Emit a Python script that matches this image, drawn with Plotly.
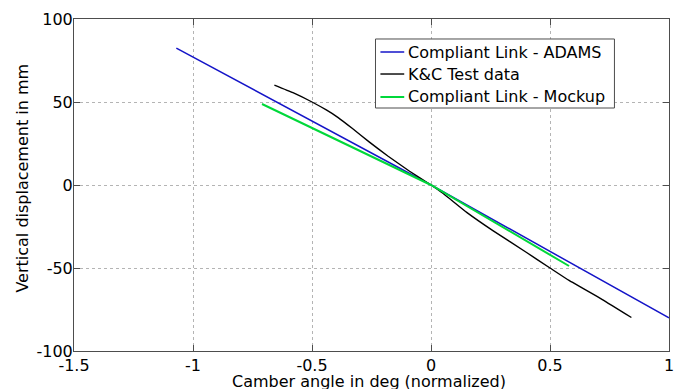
import plotly.graph_objects as go

# Compliant link model (ADAMS)
adams_x = [-1.07, 0.0, 1.0]
adams_y = [82.5, 0.0, -80.0]

# Kinematics & compliance rig measurement
kc_x = [-0.658, -0.58, -0.5, -0.44, -0.39, -0.33, -0.26, -0.18, -0.09, 0.0,
        0.05, 0.15, 0.26, 0.4, 0.5, 0.58, 0.72, 0.842]
kc_y = [60.2, 55.6, 50.0, 45.2, 40.6, 34.0, 26.0, 17.3, 8.3, 0.0,
        -5.0, -16.5, -27.5, -40.5, -50.0, -57.5, -69.0, -79.8]

# Compliant link mockup
mock_x = [-0.71, 0.0, 0.58]
mock_y = [48.8, 0.0, -48.8]

series_names = ["Compliant Link - ADAMS", "K&C Test data", "Compliant Link - Mockup"]
series_colors = ["#1414c8", "#000000", "#00d83a"]
series_widths = [1.5, 1.4, 2.0]

x_ticks = [-1.5, -1.0, -0.5, 0.0, 0.5, 1.0]
x_tick_text = ["-1.5", "-1", "-0.5", "0", "0.5", "1"]
y_ticks = [-100, -50, 0, 50, 100]
y_tick_text = ["-100", "-50", "0", "50", "100"]

FONT = "DejaVu Sans, Arial, sans-serif"
FS = 16
AXIS_COLOR = "#4d4d4d"
GRID_COLOR = "#b4b4b4"

fig = go.Figure()
for xs, ys, name, color, width in zip([adams_x, kc_x, mock_x], [adams_y, kc_y, mock_y],
                                      series_names, series_colors, series_widths):
    line = dict(color=color, width=width)
    if name == "K&C Test data":
        line.update(shape="spline", smoothing=0.4)
    fig.add_trace(go.Scatter(x=xs, y=ys, mode="lines", name=name, line=line,
                             showlegend=False))

axis_common = dict(
    showline=True, linecolor=AXIS_COLOR, linewidth=1, mirror="ticks",
    ticks="inside", ticklen=6, tickcolor=AXIS_COLOR, tickwidth=1,
    showgrid=True, gridcolor=GRID_COLOR, griddash="dot", gridwidth=1,
    zeroline=False, tickfont=dict(family=FONT, size=FS, color="#000000"),
)

fig.update_xaxes(range=[-1.5, 1.0], tickvals=x_ticks, ticktext=x_tick_text,
                 **axis_common)
fig.update_yaxes(range=[-100, 100], tickvals=y_ticks, ticktext=y_tick_text,
                 ticklabelstandoff=-3, **axis_common)

# Boxed legend in the upper right of the axes
shapes = [dict(type="rect", xref="paper", yref="paper",
               x0=0.5067, x1=0.9083, y0=0.7319, y1=0.9398,
               line=dict(color=AXIS_COLOR, width=1), fillcolor="white", layer="above")]
annotations = []
row_y = [0.9006, 0.8343, 0.7651]
for ry, name, color, width in zip(row_y, series_names, series_colors, series_widths):
    shapes.append(dict(type="line", xref="paper", yref="paper",
                       x0=0.515, x1=0.555, y0=ry, y1=ry,
                       line=dict(color=color, width=width), layer="above"))
    annotations.append(dict(text=name, xref="paper", yref="paper", x=0.558, y=ry,
                            xanchor="left", yanchor="middle", showarrow=False,
                            font=dict(family=FONT, size=FS, color="#000000")))

annotations += [
    dict(text="Camber angle in deg (normalized)", xref="paper", yref="paper",
         x=0.495, y=-0.057, xanchor="center", yanchor="top", showarrow=False,
         font=dict(family=FONT, size=FS)),
    dict(text="Vertical displacement in mm", xref="paper", yref="paper",
         x=-0.087, y=0.52, xanchor="center", yanchor="middle", showarrow=False,
         textangle=-90, font=dict(family=FONT, size=FS)),
]

fig.update_layout(
    width=681, height=389,
    margin=dict(l=74, r=7, t=19, b=38),
    paper_bgcolor="white", plot_bgcolor="white",
    font=dict(family=FONT, size=FS, color="#000000"),
    showlegend=False,
    shapes=shapes,
    annotations=annotations,
)

fig.write_html("out.html")
